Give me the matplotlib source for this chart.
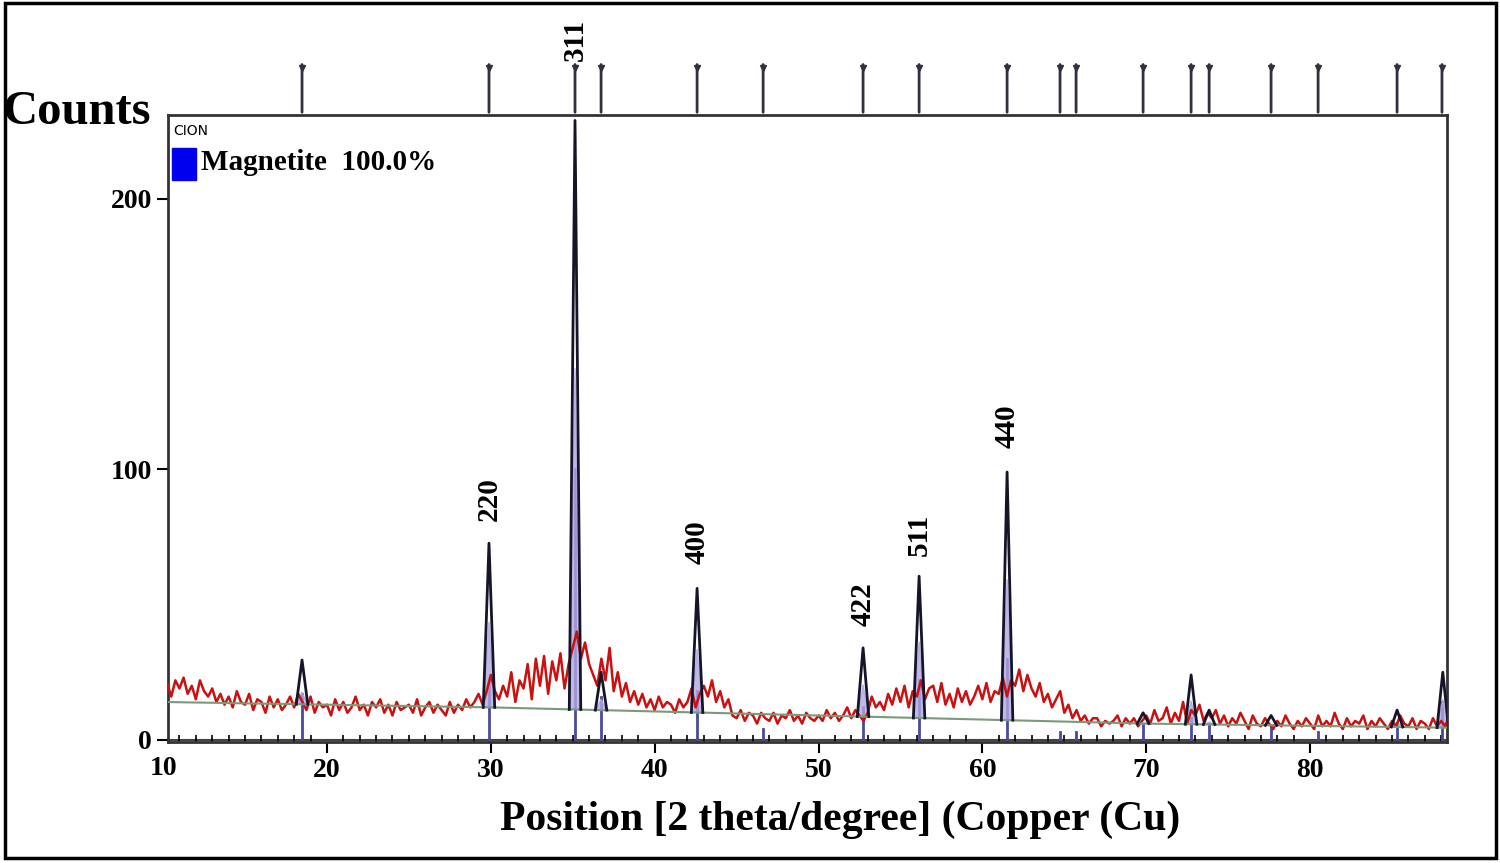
import matplotlib
matplotlib.use("Agg")
import matplotlib.pyplot as plt
import numpy as np
from matplotlib.patches import Rectangle

x_start, x_step = 10.0, 0.25
observed = [17,21,16,22, 19,23,17,20, 15,22,18,16, 19,14,17,13, 16,12,18,14,
            13,17,11,15, 14,10,16,12, 15,11,13,16, 12,17,14,11, 16,10,14,12,
            13,9,15,11, 14,10,12,16, 11,13,9,14, 12,15,10,13, 9,14,11,12,
            13,10,15,9, 12,14,10,13, 11,9,14,10, 13,11,15,12, 14,17,13,18,
            24,18,15,20, 16,25,14,22, 19,28,15,30, 20,31,17,29, 22,32,19,28,
            34,40,30,36, 28,24,20,30, 22,34,18,25, 16,21,14,18, 13,17,12,15,
            11,16,12,14, 13,10,15,12, 14,19,12,17, 20,16,22,14, 18,12,15,9,
            8,11,7,10, 9,6,10,8, 7,10,6,9, 8,11,7,9, 6,10,8,7,
            9,7,11,8, 10,7,9,12, 8,11,9,7, 10,16,12,14, 11,17,13,19,
            14,20,12,18, 16,22,15,19, 20,14,21,13, 17,12,19,14, 18,13,16,20,
            15,21,14,18, 17,23,16,22, 20,26,18,24, 19,16,21,14, 17,12,15,18,
            10,13,8,11, 7,9,6,8, 8,5,7,6, 7,9,5,8, 6,8,5,7,
            9,6,11,7, 8,12,6,10, 7,14,6,11, 9,13,7,10, 8,11,6,9,
            5,8,6,10, 7,4,9,6, 5,8,6,4, 7,5,9,6, 4,7,5,8,
            6,4,9,5, 7,5,10,6, 4,8,5,7, 6,9,4,7, 5,8,6,4,
            7,5,9,6, 5,8,4,7, 6,4,8,5, 7,5,9,6]
bg_x = [10, 30, 40, 50, 60, 70, 88.5]
bg_y = [14, 12, 10.5, 9, 7.5, 6, 4.5]
peak_pos = [18.48, 29.89, 35.14, 36.73, 42.59, 52.72, 56.14, 61.51, 69.81, 72.74, 73.84, 77.62, 85.31, 88.1]
peak_top = [29.5, 72.7, 229, 25, 56, 34, 60.5, 99, 10, 24, 11, 9, 11, 25]
ref_pos = [18.48, 29.89, 35.14, 36.73, 42.59, 46.62, 52.72, 56.14, 61.51, 64.74, 65.72, 69.81,
           72.74, 73.84, 77.62, 80.49, 85.31, 88.05]
ref_stick = [17, 22, 100, 16, 18, 4, 12, 22, 30, 3, 3, 6, 8, 6, 5, 3, 6, 14]
hkl_labels = ["220", "311", "400", "422", "511", "440"]
hkl_pos = [29.89, 35.14, 42.59, 52.72, 56.14, 61.51]
hkl_y = [81, 251, 65, 42, 68, 108]

fig = plt.figure(figsize=(15, 8.63), dpi=100)
fig.patches.append(Rectangle((0.003, 0.006), 0.994, 0.99, transform=fig.transFigure,
                             fill=False, lw=2.5, ec="black"))
ax = fig.add_axes([0.112, 0.1402, 0.8527, 0.7265])
xs = x_start + x_step * np.arange(len(observed))

for p, h in zip(ref_pos, ref_stick):
    ax.plot([p, p], [0, h], color="#4a4a9a", lw=2, zorder=2)
for p, t in zip(peak_pos, peak_top):
    b = np.interp(p, bg_x, bg_y)
    ax.fill([p - 0.35, p, p + 0.35], [b, t * 0.6, b], color="#b0a8e0", alpha=0.8, zorder=2)
ax.plot(xs, observed, color="#cc1010", lw=1.8, zorder=3)
ax.plot(bg_x, bg_y, color="#7a9a7a", lw=1.5, zorder=3)
for p, t in zip(peak_pos, peak_top):
    b = np.interp(p, bg_x, bg_y)
    ax.plot([p - 0.35, p, p + 0.35], [b, t, b], color="#15152a", lw=2, zorder=4)
ax.axhline(0, color="#444", lw=1.5, zorder=1)

for lab, p, y in zip(hkl_labels, hkl_pos, hkl_y):
    ax.text(p, y, lab, rotation=90, ha="center", va="bottom", fontsize=21,
            fontweight="bold", family="Liberation Serif", clip_on=False)

for p in ref_pos:
    ax.annotate("", xy=(p, 1.0), xycoords=("data", "axes fraction"),
                xytext=(p, 1.085), textcoords=("data", "axes fraction"),
                arrowprops=dict(arrowstyle="-", color="#303040", lw=2))
    ax.plot([p], [1.075], marker="v", ms=5, color="#303040", transform=ax.get_xaxis_transform(), clip_on=False)

ax.set_xlim(10.3, 88.36)
ax.set_ylim(-0.8, 231)
ax.set_xticks(range(20, 90, 10))
ax.set_xticks(range(11, 89), minor=True)
ax.set_yticks([0, 100, 200])
ax.tick_params(axis="x", which="major", direction="out", length=8, width=1.5)
ax.tick_params(axis="x", which="minor", direction="in", length=5, width=1.2)
ax.tick_params(axis="y", direction="out", length=8, width=1.5)
ax.tick_params(labelsize=20)
for lbl in ax.get_xticklabels() + ax.get_yticklabels():
    lbl.set_family("Liberation Serif"); lbl.set_fontweight("bold")
ax.text(10, -6, "10", transform=ax.transData, fontsize=20, fontweight="bold",
        family="Liberation Serif", ha="center", va="top")
for s in ax.spines.values():
    s.set_linewidth(2); s.set_color("#333")
fig.text(0.56, 0.05, "Position [2 theta/degree] (Copper (Cu)", fontsize=30, fontweight="bold",
         family="Liberation Serif", ha="center", va="center")
fig.text(0.002, 0.845, "Counts", fontsize=35, fontweight="bold", family="Liberation Serif",
         va="bottom", ha="left")
ax.text(0.004, 0.985, "CION", transform=ax.transAxes, fontsize=10, va="top")
ax.add_patch(Rectangle((0.003, 0.897), 0.019, 0.05, transform=ax.transAxes, color="#0000ee"))
ax.text(0.026, 0.925, "Magnetite  100.0%", transform=ax.transAxes, fontsize=21,
        fontweight="bold", family="Liberation Serif", va="center")
fig.savefig("out.png", dpi=100)
